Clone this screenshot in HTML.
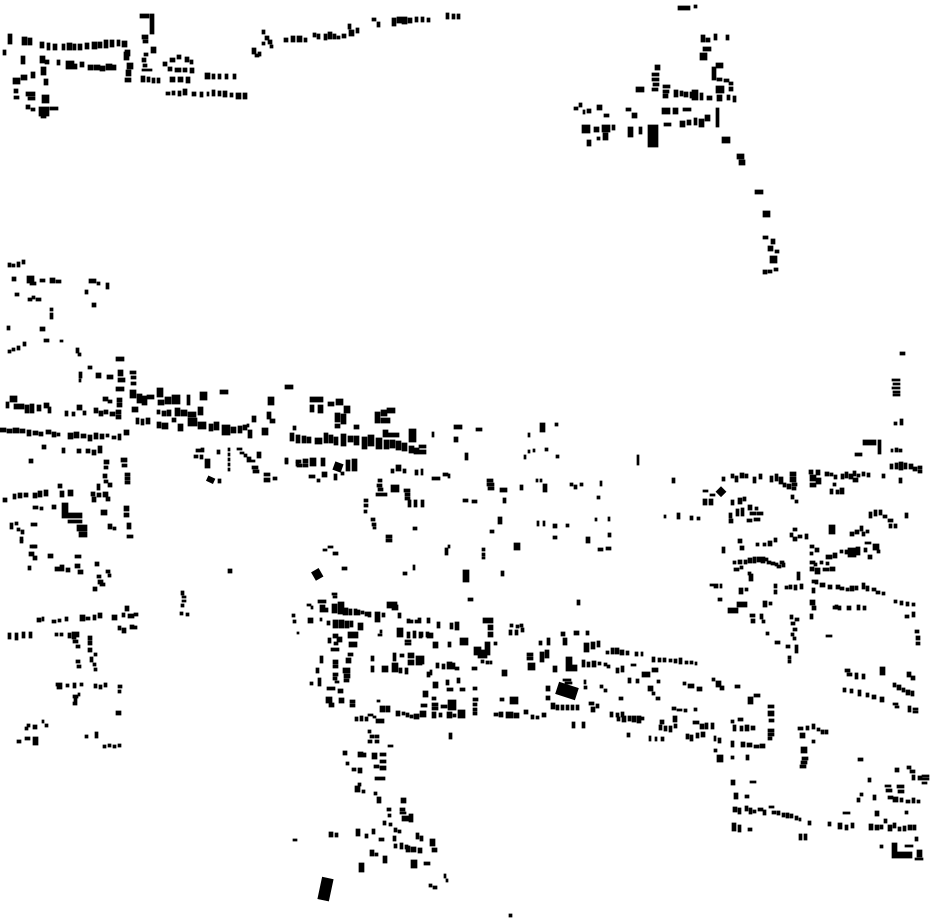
<!DOCTYPE html>
<html><head><meta charset="utf-8"><style>
html,body{margin:0;padding:0;background:#fff;width:930px;height:924px;overflow:hidden}
svg{display:block}
</style></head><body>
<svg width="930" height="924" viewBox="0 0 930 924" xmlns="http://www.w3.org/2000/svg">
<rect width="930" height="924" fill="#fff"/>
<g fill="#000" stroke="#000" stroke-width="0.7" stroke-linejoin="miter">
<path d="M8 34h4v10h-4z M3 50h3v5h-3z M21 56h4v8h-4z M22 37h5v8h-5z M28 38h4v7h-4z
M40 42h4v6h-4z M47 43h3v7h-3z M53 44h4v6h-4z M62 44h3v6h-3z M67 43h5v7h-5z M73 44h3v6h-3z M78 44h4v6h-4z M85 43h4v6h-4z M92 42h5v7h-5z M98 42h4v6h-4z M104 40h4v8h-4z M110 40h4v7h-4z M117 40h3v6h-3z M122 41h5v6h-5z M125 50h5v6h-5z
M40 56h5v7h-5z M45 60h4v4h-4z M57 60h3v5h-3z M66 61h8v8h-8z M72 64h5v5h-5z M80 62h4v5h-4z M88 65h5v5h-5z M94 65h6v5h-6z M100 66h5v5h-5z M106 64h6v6h-6z M112 65h4v5h-4z
M124 52h5v8h-5z M127 63h6v6h-6z M126 70h5v6h-5z M125 78h6v4h-6z
M140 14h9v4h-9z M150 14h4v20h-4z
M142 35h6v4h-6z M143 40h5v3h-5z M151 47h5v6h-5z M144 53h4v3h-4z M142 58h4v4h-4z M143 64h4v3h-4z M142 69h10v2h-10z M141 76h4v6h-4z M147 77h3v5h-3z M152 78h3v5h-3z M157 78h3v5h-3z
M163 62h4v4h-4z M170 58h5v4h-5z M177 55h4v4h-4z M185 57h4v5h-4z M190 60h3v4h-3z M168 67h4v4h-4z M175 68h6v4h-6z M183 68h4v4h-4z M190 68h4v5h-4z M170 77h5v5h-5z M178 77h5v5h-5z M186 77h4v6h-4z
M205 73h5v6h-5z M212 74h3v5h-3z M218 74h3v5h-3z M225 74h3v5h-3z M233 74h3v5h-3z
M166 92h4v3h-4z M172 91h3v4h-3z M178 91h3v5h-3z M183 89h4v6h-4z M192 92h4v4h-4z M200 92h3v5h-3z M207 92h2v4h-2z M212 90h3v6h-3z M218 91h3v5h-3z M223 91h4v6h-4z M230 93h3v4h-3z M236 93h5v6h-5z M243 93h4v6h-4z
M13 78h7v6h-7z M21 75h6v5h-6z M31 72h4v6h-4z M41 67h5v8h-5z M44 79h4v6h-4z M14 89h4v4h-4z M14 96h5v3h-5z M26 92h9v4h-9z M28 97h7v3h-7z M42 95h7v8h-7z M26 105h4v4h-4z M31 108h4v3h-4z M39 107h10v9h-10z M41 115h5v3h-5z M50 107h8v3h-8z
M252 48h4v6h-4z M255 54h4v3h-4z M258 52h3v4h-3z M262 30h3v4h-3z M265 36h4v4h-4z M268 40h4v4h-4z M270 45h3v3h-3z M262 42h3v3h-3z
M284 38h4v4h-4z M291 36h4v6h-4z M297 36h5v6h-5z M304 38h3v4h-3z M313 33h3v4h-3z M317 34h3v5h-3z M324 34h3v6h-3z M328 32h4v7h-4z M333 34h3v5h-3z M337 36h3v3h-3z M342 34h4v4h-4z M348 24h3v5h-3z M349 30h5v6h-5z M356 28h3v5h-3z
M372 18h4v3h-4z M377 22h3v5h-3z M392 18h4v8h-4z M397 17h5v6h-5z M402 17h5v7h-5z M408 18h4v5h-4z M415 17h3v5h-3z M421 17h3v5h-3z M427 18h3v4h-3z M446 13h3v6h-3z M452 14h3v5h-3z M457 14h3v5h-3z
M678 6h12v4h-12z M694 5h3v3h-3z
M701 35h4v7h-4z M706 38h4v4h-4z M714 34h3v6h-3z M726 35h3v5h-3z M703 47h8v4h-8z M700 53h7v7h-7z M716 63h7v5h-7z M712 67h4v13h-4z M717 78h5v3h-5z M724 79h5v3h-5z M716 86h8v7h-8z M729 82h4v3h-4z M729 87h4v4h-4z
M655 65h5v5h-5z M652 73h7v3h-7z M652 78h7v3h-7z M653 83h6v3h-6z M652 88h6v3h-6z M636 87h8v5h-8z
M663 85h7v3h-7z M663 90h6v3h-6z M663 94h5v4h-5z M674 90h4v7h-4z M680 91h3v5h-3z M684 92h4v5h-4z M690 92h3v6h-3z M692 90h6v10h-6z M700 93h3v7h-3z M707 96h5v4h-5z M717 95h5v6h-5z M727 95h3v5h-3z M733 96h3v6h-3z
M574 107h4v3h-4z M579 103h3v4h-3z M583 110h2v4h-2z M587 109h4v4h-4z M597 105h5v5h-5z M604 114h5v3h-5z M626 108h5v3h-5z M632 113h5v5h-5z
M582 125h8v8h-8z M594 127h5v5h-5z M602 125h8v7h-8z M612 125h3v5h-3z M587 140h4v6h-4z M597 137h3v3h-3z M603 133h5v7h-5z M628 127h5v10h-5z M639 127h3v7h-3z M648 125h10v22h-10z
M662 108h8v6h-8z M673 108h5v6h-5z M683 108h8v3h-8z M664 123h7v3h-7z M680 121h5v6h-5z M687 120h4v5h-4z M694 118h3v7h-3z M699 119h5v8h-5z M705 115h5v6h-5z M716 108h3v19h-3z M722 137h8v6h-8z
M737 154h7v5h-7z M739 160h6v5h-6z M755 190h8v4h-8z M763 211h7v6h-7z M763 236h5v3h-5z M771 239h4v5h-4z M768 246h5v5h-5z M775 250h4v3h-4z M770 256h7v7h-7z M763 270h4v4h-4z M768 270h4v3h-4z M774 268h4v3h-4z"/>
<path d="M8 263h3v4h-3z M12 264h3v3h-3z M17 262h3v5h-3z M22 260h3v4h-3z M12 277h4v4h-4z M27 276h7v7h-7z M30 282h6v3h-6z M40 279h5v3h-5z M50 278h5v5h-5z M56 280h5v3h-5z M15 293h4v3h-4z M28 298h4v3h-4z M32 296h3v3h-3z M36 298h5v3h-5z M50 308h3v3h-3z M50 313h3v6h-3z M7 326h3v4h-3z M40 327h5v4h-5z M8 350h3v3h-3z M12 348h3v3h-3z M17 346h3v4h-3z M23 342h3v4h-3z M44 339h5v3h-5z M60 340h3v2h-3z M76 348h3v5h-3z M78 353h3v3h-3z
M89 279h7v4h-7z M97 282h3v3h-3z M106 283h3v6h-3z M85 290h3v4h-3z M92 303h4v4h-4z
M79 372h3v6h-3z M79 379h2v3h-2z M88 366h4v3h-4z M96 373h5v5h-5z M107 375h6v4h-6z M116 357h8v4h-8z M118 370h5v6h-5z M118 378h7v4h-7z M116 387h8v4h-8z M117 398h5v4h-5z M117 403h5v4h-5z
M6 402h3v6h-3z M10 396h7v6h-7z M14 404h5v5h-5z M19 404h5v5h-5z M25 405h4v8h-4z M30 404h4v9h-4z M37 405h4v6h-4z M44 403h5v5h-5z M48 407h3v6h-3z
M65 411h3v5h-3z M72 412h3v4h-3z M77 405h5v5h-5z M83 411h3v4h-3z M94 408h4v5h-4z M99 411h4v5h-4z M104 410h4v4h-4z M110 412h5v4h-5z M116 410h5v4h-5z M116 415h5v4h-5z M103 397h5v4h-5z M108 400h4v3h-4z
M0 428h6v4h-6z M7 429h5v4h-5z M13 428h6v5h-6z M20 429h5v4h-5z M27 430h4v6h-4z M33 431h5v4h-5z M39 432h4v4h-4z M46 430h5v4h-5z M52 432h4v5h-4z M57 433h3v3h-3z
M68 433h5v6h-5z M74 432h5v6h-5z M81 434h5v4h-5z M88 435h4v6h-4z M94 433h4v6h-4z M100 434h4v5h-4z M106 434h3v3h-3z M112 436h4v3h-4z M118 434h3v6h-3z M124 430h5v5h-5z
M42 445h4v4h-4z M62 448h3v5h-3z M77 449h4v4h-4z M86 449h4v4h-4z M92 450h4v5h-4z M98 446h4v7h-4z M29 459h4v4h-4z
M3 498h4v4h-4z M13 494h3v5h-3z M18 493h4v5h-4z M24 493h4v4h-4z M33 493h4v5h-4z M38 491h4v6h-4z M44 490h4v6h-4z M58 484h4v4h-4z M60 491h4v6h-4z M68 490h5v6h-5z
M62 503h6v15h-6z M62 513h20v5h-20z M68 520h14v3h-14z M77 525h10v6h-10z M79 532h8v5h-8z
M33 506h5v3h-5z M40 507h3v3h-3z M52 505h4v4h-4z M10 523h3v6h-3z M15 522h3v3h-3z M17 528h3v3h-3z M21 530h3v4h-3z M20 537h3v4h-3z M31 523h6v3h-6z M32 545h5v3h-5z
M91 492h4v4h-4z M92 497h4v5h-4z M97 493h4v4h-4z M103 492h5v5h-5z M106 497h4v4h-4z M101 510h6v5h-6z M108 524h4v5h-4z M113 527h3v3h-3z M124 506h5v5h-5z M124 513h5v4h-5z M127 523h4v6h-4z M127 535h6v3h-6z M97 484h3v6h-3z
M104 460h5v4h-5z M104 466h4v3h-4z M121 458h6v4h-6z M122 464h5v3h-5z M125 473h5v3h-5z M125 477h5v3h-5z M125 481h5v3h-5z M103 474h4v4h-4z M104 480h4v3h-4z M108 483h4v4h-4z"/>
<path d="M130 371h6v3h-6z M131 376h5v3h-5z M131 382h5v3h-5z M130 390h6v8h-6z M137 394h5v9h-5z M142 396h5v9h-5z M147 395h7v4h-7z M157 388h6v9h-6z M158 400h6v5h-6z M165 397h6v7h-6z M172 395h8v9h-8z M187 395h3v10h-3z M200 392h7v8h-7z M220 390h8v4h-8z M285 385h8v4h-8z M268 397h6v8h-6z M267 412h4v7h-4z M270 419h5v4h-5z M252 416h4v6h-4z M132 407h6v5h-6z
M157 410h3v4h-3z M162 411h4v5h-4z M167 410h4v6h-4z M175 408h5v8h-5z M181 410h6v6h-6z M188 412h8v5h-8z M198 407h5v8h-5z
M136 418h3v6h-3z M141 419h3v6h-3z M146 418h4v6h-4z M157 422h4v6h-4z M162 423h6v6h-6z M172 418h4v4h-4z M178 424h5v7h-5z M188 418h9v8h-9z M198 422h8v7h-8z M209 424h4v7h-4z M214 422h5v8h-5z M222 425h8v10h-8z M231 427h5v6h-5z M238 426h4v7h-4z M243 425h4v5h-4z M248 430h4v8h-4z M262 428h6v7h-6z M247 424h2v3h-2z
M196 449h5v3h-5z M194 455h4v3h-4z M200 455h3v4h-3z M201 448h3v4h-3z M205 459h5v9h-5z M217 450h3v4h-3z
M228 448h2v3h-2z M228 453h2v3h-2z M228 458h2v3h-2z M228 463h2v3h-2z M228 468h2v3h-2z
M237 448h5v2h-5z M240 452h4v2h-4z M244 454h3v3h-3z M247 457h4v5h-4z M257 452h4v6h-4z M250 460h5v2h-5z M252 466h6v3h-6z M253 470h6v3h-6z M264 473h6v3h-6z M264 478h6v4h-6z M273 477h4v3h-4z M218 479h3v4h-3z M285 459h3v5h-3z M296 462h3v4h-3z
M20 540h3v3h-3z M30 545h6v3h-6z M29 552h5v4h-5z M33 556h4v4h-4z M48 554h5v4h-5z M75 555h6v3h-6z M75 564h5v4h-5z M78 570h5v4h-5z M28 566h3v4h-3z M55 567h5v4h-5z M60 565h4v6h-4z M66 568h4v4h-4z M95 562h4v4h-4z M106 570h4v3h-4z M108 574h3v3h-3z M97 575h4v3h-4z M98 580h5v4h-5z M93 587h4v4h-4z M100 583h5v3h-5z M228 569h4v4h-4z
M37 618h4v4h-4z M42 617h2v4h-2z M52 620h4v3h-4z M58 619h3v3h-3z M65 617h3v4h-3z M80 615h5v6h-5z M86 617h4v3h-4z M93 615h3v5h-3z M98 613h4v5h-4z M112 615h5v5h-5z M122 613h3v4h-3z M125 606h4v5h-4z M128 614h6v4h-6z M134 613h4v3h-4z
M118 626h3v4h-3z M122 628h4v5h-4z M130 625h4v4h-4z M134 626h3v3h-3z
M8 633h3v6h-3z M15 633h3v7h-3z M22 632h3v6h-3z M29 632h3v6h-3z M55 633h3v3h-3z M60 633h3v3h-3z M68 633h3v5h-3z M72 632h4v7h-4z M76 632h3v5h-3z
M73 640h5v3h-5z M76 645h4v3h-4z M88 636h4v4h-4z M88 641h4v4h-4z M88 648h4v4h-4z M76 660h4v3h-4z M77 665h4v3h-4z M90 657h3v5h-3z M93 663h3v3h-3z M94 668h3v3h-3z M94 653h3v3h-3z
M56 683h6v3h-6z M57 686h5v3h-5z M66 684h3v3h-3z M73 683h3v5h-3z M80 683h3v3h-3z M94 684h3v4h-3z M99 685h3v4h-3z M104 683h3v4h-3z M118 685h4v3h-4z M118 690h3v3h-3z
M73 695h5v3h-5z M74 698h3v4h-3z M73 702h4v3h-4z M78 693h2v3h-2z M116 711h5v4h-5z
M25 727h3v3h-3z M27 724h3v3h-3z M33 725h4v4h-4z M42 720h2v3h-2z M45 724h3v3h-3z M17 740h4v3h-4z M25 737h5v3h-5z M33 737h5v8h-5z M85 735h3v3h-3z M95 732h3v6h-3z M103 745h3v3h-3z M108 744h3v3h-3z M113 745h3v3h-3z M118 744h3v3h-3z
M181 591h3v4h-3z M182 596h4v2h-4z M182 600h4v2h-4z M181 604h3v3h-3z M180 612h3v3h-3z M186 613h3v3h-3z"/>
<path d="M310 397h13v5h-13z M310 405h4v7h-4z M318 405h5v8h-5z M328 402h6v4h-6z M336 399h7v6h-7z M344 406h6v7h-6z M335 413h5v9h-5z M341 414h5v10h-5z M335 424h5v4h-5z M354 425h5v4h-5z M375 412h5v11h-5z M381 410h6v6h-6z M387 408h8v5h-8z M381 418h9v5h-9z M293 426h3v4h-3z
M290 433h4v8h-4z M296 435h4v8h-4z M302 436h4v7h-4z M307 437h4v6h-4z M315 438h7v6h-7z M324 433h4v10h-4z M329 435h4v8h-4z M334 437h4v8h-4z M341 434h5v12h-5z M348 436h5v6h-5z M354 436h5v9h-5z M362 437h5v12h-5z M368 435h6v11h-6z M376 438h6v11h-6z M383 430h5v7h-5z M388 433h11v4h-11z M384 440h5v9h-5z M390 440h5v8h-5z M396 441h5v9h-5z M402 443h5v8h-5z M409 429h7v13h-7z M409 446h5v7h-5z M414 448h5v6h-5z M419 445h7v3h-7z M419 450h7v4h-7z
M285 458h3v5h-3z M296 460h5v3h-5z M297 464h5v3h-5z M303 459h5v4h-5z M303 464h5v3h-5z M310 458h6v8h-6z M321 458h4v8h-4z M346 460h4v11h-4z M352 459h5v12h-5z M309 475h6v3h-6z M317 479h3v3h-3z M322 472h5v5h-5z M334 474h3v6h-3z M341 472h3v3h-3z
M391 469h3v4h-3z M396 465h5v6h-5z M403 469h3v4h-3z M415 470h3v5h-3z M421 469h2v6h-2z M432 477h8v3h-8z M443 473h5v3h-5z M448 474h2v4h-2z
M378 479h4v3h-4z M377 484h5v3h-5z M378 488h5v3h-5z M376 493h11v3h-11z M391 485h8v7h-8z M404 489h6v3h-6z M405 493h5v3h-5z M405 497h5v3h-5z M408 500h3v7h-3z M414 500h3v7h-3z M421 500h3v7h-3z
M454 425h8v4h-8z M476 428h6v3h-6z M454 437h4v5h-4z M465 453h3v7h-3z M432 432h2v5h-2z
M540 423h5v9h-5z M555 423h3v3h-3z M528 433h2v4h-2z M524 455h2v4h-2z M528 450h2v3h-2z M533 449h2v3h-2z M545 448h3v3h-3z M556 455h3v3h-3z
M487 479h6v3h-6z M487 483h7v3h-7z M488 487h6v3h-6z M500 488h7v4h-7z M503 498h3v5h-3z M520 485h3v5h-3z M536 479h2v3h-2z M540 479h2v3h-2z M543 484h4v8h-4z M570 483h3v3h-3z M574 485h3v4h-3z M580 483h3v3h-3z M600 481h2v5h-2z M597 496h3v3h-3z M637 455h2v10h-2z
M463 499h5v3h-5z M472 500h5v3h-5z M498 517h4v7h-4z M490 530h4v3h-4z M537 521h2v5h-2z M543 521h2v5h-2z M553 524h4v4h-4z M566 524h3v3h-3z M553 536h4v3h-4z M586 537h4v6h-4z M595 518h2v3h-2z M608 517h2v4h-2z M608 533h3v4h-3z M598 548h5v3h-5z M606 547h5v3h-5z
M514 543h6v7h-6z M445 548h3v7h-3z M448 545h2v3h-2z M482 548h3v3h-3z M482 553h3v3h-3z M482 557h3v2h-3z M413 527h4v3h-4z M386 535h6v3h-6z M386 539h6v3h-6z M371 518h4v3h-4z M372 523h4v3h-4z M373 527h3v2h-3z M364 499h4v3h-4z M364 504h4v3h-4z M364 510h3v3h-3z
M323 549h4v2h-4z M328 546h5v2h-5z M333 552h5v3h-5z M342 567h5v3h-5z M403 572h4v3h-4z M413 565h2v5h-2z M463 570h6v12h-6z M501 571h3v5h-3z"/>
<path d="M332 593h5v2h-5z M333 596h4v2h-4z M307 604h4v2h-4z M311 606h2v3h-2z M318 600h8v3h-8z M320 605h5v7h-5z M325 608h3v4h-3z M332 604h5v9h-5z M338 602h6v12h-6z M343 608h5v7h-5z M349 609h3v6h-3z M354 609h3v6h-3z M357 610h3v5h-3z M361 611h3v3h-3z M365 612h3v4h-3z M368 612h3v5h-3z M375 612h5v10h-5z M382 613h3v4h-3z M387 602h10v6h-10z M392 605h6v5h-6z M398 613h3v5h-3z M407 619h3v4h-3z M410 620h3v3h-3z M415 620h3v3h-3z M418 618h3v5h-3z
M292 614h3v3h-3z M293 620h3v3h-3z M297 632h2v2h-2z M308 618h5v5h-5z M320 618h2v3h-2z M327 621h3v4h-3z M333 620h5v8h-5z M339 620h5v8h-5z M345 621h4v7h-4z M350 621h3v6h-3z M358 623h5v7h-5z
M348 632h10v6h-10z M333 634h5v4h-5z M337 637h5v5h-5z M334 642h4v3h-4z M328 638h3v5h-3z M349 642h8v5h-8z M331 648h8v3h-8z M348 653h5v3h-5z M346 658h5v5h-5z M320 656h3v7h-3z M333 660h5v4h-5z M333 665h5v3h-5z M333 673h5v3h-5z M333 677h4v3h-4z M335 681h4v2h-4z M343 668h7v5h-7z M344 674h6v4h-6z M344 679h5v3h-5z M316 668h3v5h-3z M318 678h3v8h-3z M310 682h3v3h-3z M327 687h8v3h-8z M338 689h5v4h-5z M326 697h6v6h-6z M339 698h5v5h-5z M329 703h5v4h-5z M350 700h5v3h-5z M350 704h5v3h-5z
M380 706h5v6h-5z M377 700h3v2h-3z M386 706h4v6h-4z M396 711h4v5h-4z M402 712h3v3h-3z M406 713h3v4h-3z M410 715h3v3h-3z M414 714h5v5h-5z M420 711h3v6h-3z M355 717h3v4h-3z M360 716h3v5h-3z M365 717h3v4h-3z M368 714h5v2h-5z M373 716h3v2h-3z M376 719h8v4h-8z
M371 656h3v5h-3z M371 666h3v6h-3z M382 666h6v6h-6z M392 663h6v9h-6z M399 668h3v5h-3z M405 668h3v6h-3z M393 653h3v8h-3z M400 654h4v3h-4z M408 653h6v5h-6z M408 660h6v5h-6z M416 656h6v9h-6z
M380 630h2v3h-2z M378 634h4v2h-4z M397 628h6v9h-6z M407 632h3v6h-3z M413 631h3v7h-3z M419 632h3v6h-3z M405 640h6v2h-6z M405 643h6v2h-6z M427 618h3v5h-3z M427 633h3v5h-3z M427 672h3v5h-3z
M468 598h5v3h-5z M577 600h3v5h-3z M437 622h3v6h-3z M450 623h3v6h-3z M455 622h4v8h-4z M483 618h10v5h-10z M488 625h5v5h-5z M488 632h5v5h-5z M460 638h8v7h-8z M474 647h7v8h-7z M481 650h9v5h-9z M485 642h5v13h-5z M478 655h9v3h-9z M481 660h3v3h-3z M486 661h3v3h-3z M490 661h2v3h-2z M494 642h3v3h-3z
M420 632h3v5h-3z M426 632h3v5h-3z M433 642h5v6h-5z M448 642h3v5h-3z M430 633h3v5h-3z
M510 624h3v3h-3z M516 625h3v3h-3z M520 624h3v3h-3z M509 630h3v5h-3z M515 630h3v5h-3z M521 628h3v4h-3z M527 653h6v3h-6z M527 657h6v3h-6z M528 663h7v7h-7z M540 652h4v10h-4z M545 650h4v8h-4z M553 666h4v6h-4z M547 638h3v7h-3z M539 641h3v4h-3z M561 632h4v4h-4z M563 638h4v7h-4z M574 631h5v4h-5z M586 631h3v4h-3z M584 643h5v9h-5z M591 642h4v7h-4z M597 641h3v6h-3z
M566 657h6v14h-6z M570 665h7v6h-7z M582 660h3v7h-3z M587 662h3v5h-3z M592 661h4v6h-4z
M563 679h8v2h-8z M565 682h7v2h-7z M546 686h4v5h-4z M546 696h4v4h-4z M584 680h2v4h-2z M584 686h3v3h-3z
M551 703h4v6h-4z M556 705h3v5h-3z M561 705h3v5h-3z M566 705h3v5h-3z M571 705h3v5h-3z M576 705h3v5h-3z M589 702h5v3h-5z M591 707h4v5h-4z M596 704h3v4h-3z M572 722h3v6h-3z M582 722h3v6h-3z
M500 698h4v3h-4z M510 697h8v7h-8z M494 713h4v3h-4z M499 712h4v5h-4z M506 712h7v6h-7z M514 713h5v5h-5z M524 710h4v4h-4z M531 715h3v4h-3z M536 716h3v3h-3z M542 713h4v4h-4z M502 670h5v6h-5z
M473 698h5v3h-5z M473 703h4v3h-4z M473 708h4v3h-4z M473 712h4v3h-4z M473 687h4v3h-4z M448 700h8v10h-8z M432 697h4v3h-4z M432 703h6v3h-6z M432 707h6v3h-6z M441 705h6v3h-6z M421 704h6v3h-6z M422 711h4v6h-4z M432 712h4v6h-4z M439 713h3v4h-3z M447 712h5v6h-5z M453 714h3v3h-3z M458 710h7v8h-7z
M433 682h5v6h-5z M446 680h3v5h-3z M457 678h3v5h-3z M447 688h6v3h-6z M460 688h5v3h-5z M423 691h5v6h-5z M436 663h3v5h-3z M442 664h3v5h-3z M447 662h5v7h-5z M451 663h4v6h-4z M455 667h4v3h-4z M472 667h5v3h-5z M420 656h4v8h-4z M430 670h2v5h-2z M449 733h3v6h-3z"/>
<path d="M368 730h3v3h-3z M370 735h4v3h-4z M368 740h4v3h-4z M375 735h4v3h-4z M375 740h4v3h-4z M388 745h5v2h-5z
M343 751h4v4h-4z M358 752h5v5h-5z M363 753h3v4h-3z M372 753h5v6h-5z M380 753h6v3h-6z M380 760h6v3h-6z M374 765h5v3h-5z M380 766h6v4h-6z M375 777h10v3h-10z M346 762h3v3h-3z M352 768h4v3h-4z M358 768h4v5h-4z
M355 786h5v6h-5z M358 783h3v3h-3z M362 790h3v3h-3z M374 792h3v3h-3z M377 797h4v6h-4z M401 798h5v5h-5z M400 808h5v3h-5z M400 812h6v2h-6z M402 816h10v5h-10z M409 814h4v8h-4z M387 808h4v3h-4z M388 814h3v3h-3z M383 821h3v4h-3z M389 823h3v3h-3z M394 828h3v4h-3z M398 830h3v3h-3z
M329 832h4v5h-4z M335 833h3v4h-3z M356 829h4v7h-4z M365 834h3v4h-3z M372 829h3v5h-3z M379 838h5v3h-5z M393 836h3v5h-3z M394 844h3v4h-3z M400 843h3v6h-3z M405 845h3v4h-3z M406 846h4v6h-4z M411 847h5v5h-5z M418 848h4v5h-4z M416 833h3v6h-3z M420 836h3v5h-3z M430 839h5v7h-5z M432 848h5v4h-5z
M370 850h4v6h-4z M375 853h3v3h-3z M383 856h4v7h-4z M359 863h5v9h-5z M411 860h6v8h-6z M424 862h6v3h-6z M429 884h3v3h-3z M433 886h4v3h-4z M444 874h2v4h-2z M446 879h2v3h-2z M293 839h4v2h-4z M509 914h3v3h-3z"/>
<path d="M737 602h10v5h-10z M728 608h10v5h-10z M763 601h4v6h-4z M769 602h3v3h-3z M750 614h5v3h-5z M751 619h4v4h-4z M760 614h3v5h-3z M762 620h3v3h-3z M766 632h3v3h-3z M775 641h5v3h-5z M718 598h4v3h-4z
M790 615h3v4h-3z M795 618h4v3h-4z M791 622h4v3h-4z M793 628h4v3h-4z M791 633h3v3h-3z M793 637h3v3h-3z M786 645h4v3h-4z M795 645h3v8h-3z M788 656h3v3h-3z M788 660h3v3h-3z
M810 600h5v5h-5z M812 606h4v4h-4z M810 614h3v5h-3z M826 635h6v2h-6z M835 605h3v4h-3z
M606 651h3v3h-3z M611 648h3v6h-3z M615 648h4v6h-4z M620 650h4v5h-4z M626 651h3v4h-3z M635 652h3v4h-3z M641 652h2v4h-2z
M652 657h3v5h-3z M658 658h3v4h-3z M663 658h3v4h-3z M669 659h3v3h-3z M674 659h3v4h-3z M679 658h3v6h-3z M685 661h3v3h-3z M690 661h3v3h-3z M695 662h2v3h-2z
M598 662h3v3h-3z M604 663h3v3h-3z M607 665h3v3h-3z M616 668h3v5h-3z M621 666h3v6h-3z M631 664h5v2h-5z M642 672h8v5h-8z M652 668h6v4h-6z M628 678h3v5h-3z M636 679h3v4h-3z M648 686h5v5h-5z M652 692h3v3h-3z M657 680h3v3h-3z M683 682h3v3h-3z M688 684h6v4h-6z M697 687h5v4h-5z M712 678h3v3h-3z M716 681h5v6h-5z M720 686h4v4h-4z M735 685h5v3h-5z
M748 697h5v7h-5z M754 694h6v3h-6z M600 685h3v3h-3z M604 689h3v3h-3z M619 697h4v3h-4z M656 697h4v3h-4z
M610 712h3v5h-3z M616 713h3v4h-3z M621 712h3v5h-3z M617 717h3v4h-3z M622 716h4v6h-4z M628 716h3v5h-3z M632 716h4v6h-4z M637 716h4v7h-4z M641 717h3v3h-3z M627 733h3v4h-3z
M649 736h2v5h-2z M655 737h2v4h-2z M661 737h3v4h-3z M670 728h2v3h-2z M672 707h4v3h-4z M677 709h5v2h-5z M684 709h3v3h-3z M694 708h3v3h-3z M673 716h4v6h-4z M660 720h4v4h-4z M659 725h3v5h-3z M664 726h3v5h-3z M669 726h3v6h-3z M674 724h3v4h-3z
M693 721h6v3h-6z M700 724h4v5h-4z M705 723h3v6h-3z M711 723h3v6h-3z M686 734h3v5h-3z M690 735h3v6h-3z M696 733h3v5h-3z M701 732h4v5h-4z M714 736h2v5h-2z M718 738h3v5h-3z M714 749h3v3h-3z
M731 741h3v6h-3z M741 742h4v5h-4z M747 743h5v4h-5z M754 745h5v3h-5z M760 744h5v4h-5z M731 720h3v3h-3z M733 725h3v6h-3z M738 718h5v3h-5z M740 726h3v5h-3z M745 725h4v6h-4z M751 726h4v4h-4z
M717 755h6v7h-6z M731 756h3v3h-3z M746 755h3v5h-3z
M768 705h6v3h-6z M768 711h6v5h-6z M769 719h5v3h-5z M768 729h6v3h-6z M768 733h6v3h-6z M768 737h4v3h-4z
M798 727h5v3h-5z M806 726h3v4h-3z M812 724h3v5h-3z M817 728h3v3h-3z M821 730h3v4h-3z M825 730h3v4h-3z M800 733h5v5h-5z M801 747h6v6h-6z M802 757h6v3h-6z M801 761h6v3h-6z M800 765h6v3h-6z M812 740h3v3h-3z"/>
<path d="M900 352h5v3h-5z M892 379h8v2h-8z M893 383h7v2h-7z M892 387h8v2h-8z M893 391h7v2h-7z M893 394h7v2h-7z M894 422h3v3h-3z M900 419h3v6h-3z M863 440h13v5h-13z M878 440h3v3h-3z M878 443h3v11h-3z M855 453h7v3h-7z M891 449h2v3h-2z M895 448h3v4h-3z M899 449h3v3h-3z
M890 464h3v5h-3z M895 463h3v6h-3z M899 462h4v8h-4z M904 463h3v6h-3z M909 464h4v5h-4z M913 467h4v4h-4z M918 466h4v3h-4z M918 470h4v3h-4z M899 478h3v5h-3z M882 474h3v4h-3z
M809 470h4v4h-4z M816 470h4v5h-4z M810 475h6v6h-6z M816 478h5v6h-5z M810 483h6v4h-6z M825 472h4v4h-4z M830 473h3v3h-3z M834 475h3v4h-3z M833 483h3v3h-3z
M841 474h3v5h-3z M845 472h3v6h-3z M849 474h4v5h-4z M853 471h3v5h-3z M857 474h3v3h-3z M862 472h3v4h-3z M867 473h3v4h-3z M853 478h5v4h-5z M830 489h3v5h-3z M836 490h3v4h-3z M840 488h4v6h-4z
M722 477h3v4h-3z M731 474h3v4h-3z M735 476h3v6h-3z M740 473h4v5h-4z M745 474h3v4h-3z M753 477h3v6h-3z M759 474h3v5h-3z M770 476h3v6h-3z M775 474h3v7h-3z M779 477h4v7h-4z M790 472h6v4h-6z M790 477h6v5h-6z M792 483h5v3h-5z M792 487h4v3h-4z M783 483h3v4h-3z M787 484h4v5h-4z M791 495h3v4h-3z M795 500h3v3h-3z
M703 490h5v2h-5z M710 494h5v2h-5z M703 499h4v6h-4z M709 499h4v6h-4z M731 500h3v5h-3z M738 498h4v6h-4z M743 497h3v4h-3z M748 505h4v5h-4z M755 507h3v3h-3z M750 512h6v3h-6z M757 512h6v3h-6z M672 478h3v5h-3z
M664 515h2v3h-2z M677 513h3v6h-3z M690 516h3v4h-3z M697 517h3v3h-3z M729 513h3v5h-3z M729 519h4v4h-4z M736 509h3v7h-3z M741 508h3v8h-3z M747 519h5v3h-5z M754 518h6v3h-6z
M869 512h3v6h-3z M874 510h3v6h-3z M879 510h3v5h-3z M883 515h4v3h-4z M888 519h5v3h-5z M889 524h3v4h-3z M894 524h3v4h-3z M905 513h3v5h-3z
M829 525h6v9h-6z M850 532h4v4h-4z M855 530h4v4h-4z M860 526h3v5h-3z M862 532h3v4h-3z M866 530h3v3h-3z
M810 545h4v3h-4z M815 548h4v4h-4z M810 552h3v3h-3z M722 547h3v6h-3z M738 539h4v4h-4z M740 546h4v4h-4z M756 543h3v3h-3z M763 543h3v3h-3z M768 541h4v5h-4z M774 538h3v4h-3z M790 533h3v4h-3z M793 537h4v4h-4z M798 535h4v3h-4z M793 528h4v3h-4z M805 534h3v5h-3z
M826 555h6v4h-6z M833 553h4v5h-4z M840 550h3v3h-3z M845 550h4v4h-4z M848 548h8v9h-8z M856 547h4v8h-4z M864 548h3v4h-3z M865 542h6v2h-6z M874 545h3v3h-3z M877 550h3v3h-3z M868 555h4v4h-4z M873 544h6v6h-6z
M733 561h3v3h-3z M738 560h4v4h-4z M744 560h3v4h-3z M748 558h4v5h-4z M753 557h3v6h-3z M757 557h4v5h-4z M761 557h4v6h-4z M765 558h3v3h-3z M767 561h4v3h-4z M771 562h4v3h-4z M775 563h3v3h-3z M780 561h4v3h-4z M734 568h5v3h-5z M740 566h3v3h-3z M748 572h3v3h-3z M777 565h4v3h-4z M782 563h3v4h-3z
M810 561h5v3h-5z M814 563h3v3h-3z M810 567h4v4h-4z M815 568h5v6h-5z M820 561h3v3h-3z M826 562h3v3h-3z M823 568h6v3h-6z M830 567h5v4h-5z M797 572h3v8h-3z M749 574h4v7h-4z
M710 584h5v2h-5z M714 584h4v4h-4z M720 584h2v4h-2z M739 588h4v6h-4z M745 588h3v3h-3z M774 584h3v4h-3z M774 590h3v4h-3z M785 586h3v3h-3z M789 585h3v4h-3z M794 585h3v5h-3z M800 584h3v5h-3z M812 580h3v3h-3z M812 588h3v5h-3z
M815 580h3v4h-3z M820 583h5v4h-5z M828 585h4v4h-4z M836 585h4v4h-4z M840 587h4v3h-4z M846 588h3v3h-3z M850 586h4v5h-4z M855 586h3v4h-3z M862 583h3v6h-3z M866 586h3v5h-3z M872 588h4v3h-4z M876 591h4v3h-4z M882 592h3v3h-3z
M833 606h4v3h-4z M838 606h3v4h-3z M847 606h4v4h-4z M857 605h3v5h-3z M863 606h3v4h-3z M894 600h3v3h-3z M900 601h3v4h-3z M906 602h3v4h-3z M912 603h3v3h-3z M905 615h4v3h-4z M912 612h3v5h-3z M915 630h4v3h-4z M916 636h4v4h-4z M916 642h4v3h-4z"/>
<path d="M845 669h5v3h-5z M847 673h5v3h-5z M855 673h3v6h-3z M862 674h3v5h-3z M880 667h5v8h-5z M907 672h4v5h-4z M911 676h4v4h-4z
M843 688h3v4h-3z M850 689h3v4h-3z M858 690h3v6h-3z M866 693h3v4h-3z M872 695h4v4h-4z M880 697h4v5h-4z M893 683h3v4h-3z M897 685h4v5h-4z M902 688h3v4h-3z M906 690h4v5h-4z M911 691h3v5h-3z M893 703h5v2h-5z M895 706h4v2h-4z M908 706h3v6h-3z M913 708h5v2h-5z M913 711h5v2h-5z
M858 758h5v3h-5z M895 768h4v4h-4z M907 766h4v3h-4z M910 770h5v3h-5z M912 775h3v5h-3z M918 776h4v4h-4z M922 775h7v2h-7z M922 778h7v2h-7z M922 782h5v2h-5z M868 778h3v4h-3z M885 785h6v2h-6z M886 789h6v3h-6z M897 785h7v3h-7z M898 790h6v3h-6z M860 793h3v3h-3z M857 798h3v4h-3z M873 795h3v5h-3z
M888 796h5v3h-5z M893 797h5v5h-5z M900 798h3v4h-3z M906 800h4v3h-4z M912 798h3v5h-3z M917 800h3v3h-3z M875 811h4v5h-4z M843 812h7v2h-7z M905 811h3v3h-3z
M838 823h4v6h-4z M845 825h3v5h-3z M851 823h3v5h-3z M869 824h4v6h-4z M875 825h4v5h-4z M880 825h3v4h-3z M884 819h3v4h-3z M888 825h4v6h-4z M893 823h3v5h-3z M898 827h3v4h-3z M903 826h3v5h-3z M908 825h4v5h-4z M913 825h3v5h-3z M915 837h3v4h-3z M880 845h3v3h-3z
M892 843h5v14h-5z M892 852h20v6h-20z M905 845h8v2h-8z M917 850h5v7h-5z M915 858h8v2h-8z
M731 780h4v5h-4z M750 781h6v2h-6z M734 793h4v6h-4z M745 795h4v3h-4z M733 807h4v5h-4z M738 808h3v6h-3z M745 806h3v5h-3z M749 808h3v6h-3z M753 810h3v3h-3z
M758 808h5v3h-5z M763 810h3v5h-3z M769 806h5v2h-5z M772 811h4v3h-4z M777 811h3v4h-3z M782 813h3v4h-3z M786 813h3v5h-3z M790 814h3v4h-3z M795 816h3v4h-3z M799 818h2v3h-2z M808 821h3v4h-3z
M732 823h4v8h-4z M738 825h3v7h-3z M748 828h4v3h-4z M799 834h3v6h-3z M804 834h3v6h-3z M828 822h3v4h-3z"/>
<rect x="207" y="477" width="7" height="5" transform="rotate(25 210 480)"/>
<rect x="334" y="463" width="8" height="8" transform="rotate(20 338 467)"/>
<rect x="313" y="570" width="8" height="9" transform="rotate(-30 317 574)"/>
<rect x="557" y="685" width="20" height="12" transform="rotate(18 567 691)"/>
<rect x="718" y="488" width="7" height="7" transform="rotate(45 721 491)"/>
<rect x="320" y="878" width="11" height="22" transform="rotate(12 325 889)"/>
</g>
</svg>
</body></html>
